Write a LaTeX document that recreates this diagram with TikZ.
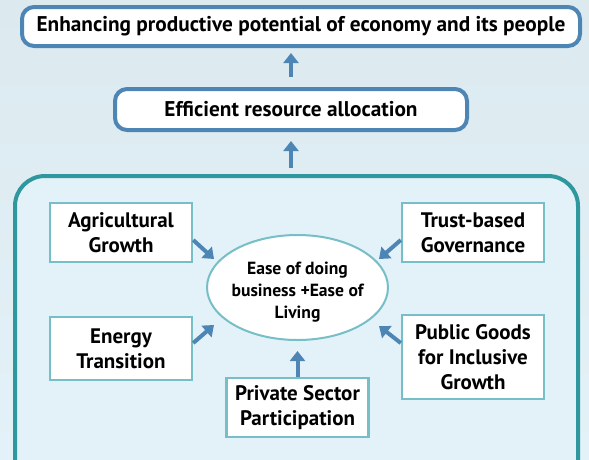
\documentclass[tikz,border=0pt]{standalone}
\usepackage{fontspec}
\setmainfont{PT Sans}
\usetikzlibrary{positioning,arrows.meta,shapes.geometric}

\definecolor{bgblue}{RGB}{227,242,248}
\definecolor{bgtop}{RGB}{220,234,240}
\definecolor{lineblue}{RGB}{77,134,180}
\definecolor{frameteal}{RGB}{46,152,158}
\definecolor{boxteal}{RGB}{118,191,198}

\begin{document}
\begin{tikzpicture}[x=1pt,y=-1pt,
  goal/.style={draw=lineblue,line width=4pt,rounded corners=12pt,fill=white,
    font=\bfseries\fontsize{21.3}{25}\selectfont},
  factor/.style={draw=boxteal,line width=2.5pt,fill=white,minimum width=142pt,
    align=center,inner sep=2pt,font=\bfseries\fontsize{21}{25}\selectfont},
  up/.style={draw=lineblue,line width=4pt,-{Triangle[width=15pt,length=10pt]}}]
  \useasboundingbox (0,0) rectangle (589,459);
  \clip (0,0) rectangle (589,459);
  \shade[top color=bgtop,bottom color=bgblue] (0,0) rectangle (589,459);

  \node[goal,minimum width=558pt,minimum height=39pt] (potential) at (301,26.5)
    {Enhancing productive potential of economy and its people};
  \node[goal,minimum width=352pt,minimum height=41pt] (allocation) at (291,109.5)
    {Efficient resource allocation};

  % the framed group
  \draw[frameteal,line width=4pt,rounded corners=30pt,fill=bgblue] (15,176) rectangle (578,490);
  \coordinate (frametop) at (291,176);

  \node[ellipse,draw=boxteal,line width=2pt,fill=white,minimum width=181pt,minimum height=105pt]
    (ease) at (297.5,287.5) {};
  \node[align=center,inner sep=0pt,font=\bfseries\fontsize{17.6}{22}\selectfont]
    (easetext) at ([yshift=-4.5pt]ease.center) {Ease of doing\\business +Ease of\\Living};

  \node[factor,minimum height=59pt] (agri)    at (121,232.5)  {Agricultural\\Growth};
  \node[factor,minimum height=63pt] (energy)  at (121,348.5)  {Energy\\Transition};
  \node[factor,minimum height=59pt] (trust)   at (473,232.5)  {Trust-based\\Governance};
  \node[factor,minimum height=84pt] (public)  at (473,357)    {Public Goods\\for Inclusive\\Growth};
  \node[factor,minimum height=59pt] (private) at (297.5,407.5) {Private Sector\\Participation};

  \coordinate (agriTip)   at (214,259);
  \coordinate (energyTip) at (214,325);
  \coordinate (trustTip)  at (379,259);
  \coordinate (publicTip) at (379,326);

  \draw[up,shorten <=10pt,shorten >=5pt] (allocation.north) -- (allocation.north |- potential.south);
  \draw[up,shorten <=8pt,shorten >=9pt] (frametop) -- (allocation.south);
  \draw[up] ([yshift=-7.5pt]agri.east) -- (agriTip);
  \draw[up] ([yshift=5.5pt]energy.east) -- (energyTip);
  \draw[up] ([yshift=-7.5pt]trust.west) -- (trustTip);
  \draw[up] ([yshift=14pt]public.west) -- (publicTip);
  \draw[up,shorten >=10pt] (private.north) -- (ease.south);
\end{tikzpicture}
\end{document}
